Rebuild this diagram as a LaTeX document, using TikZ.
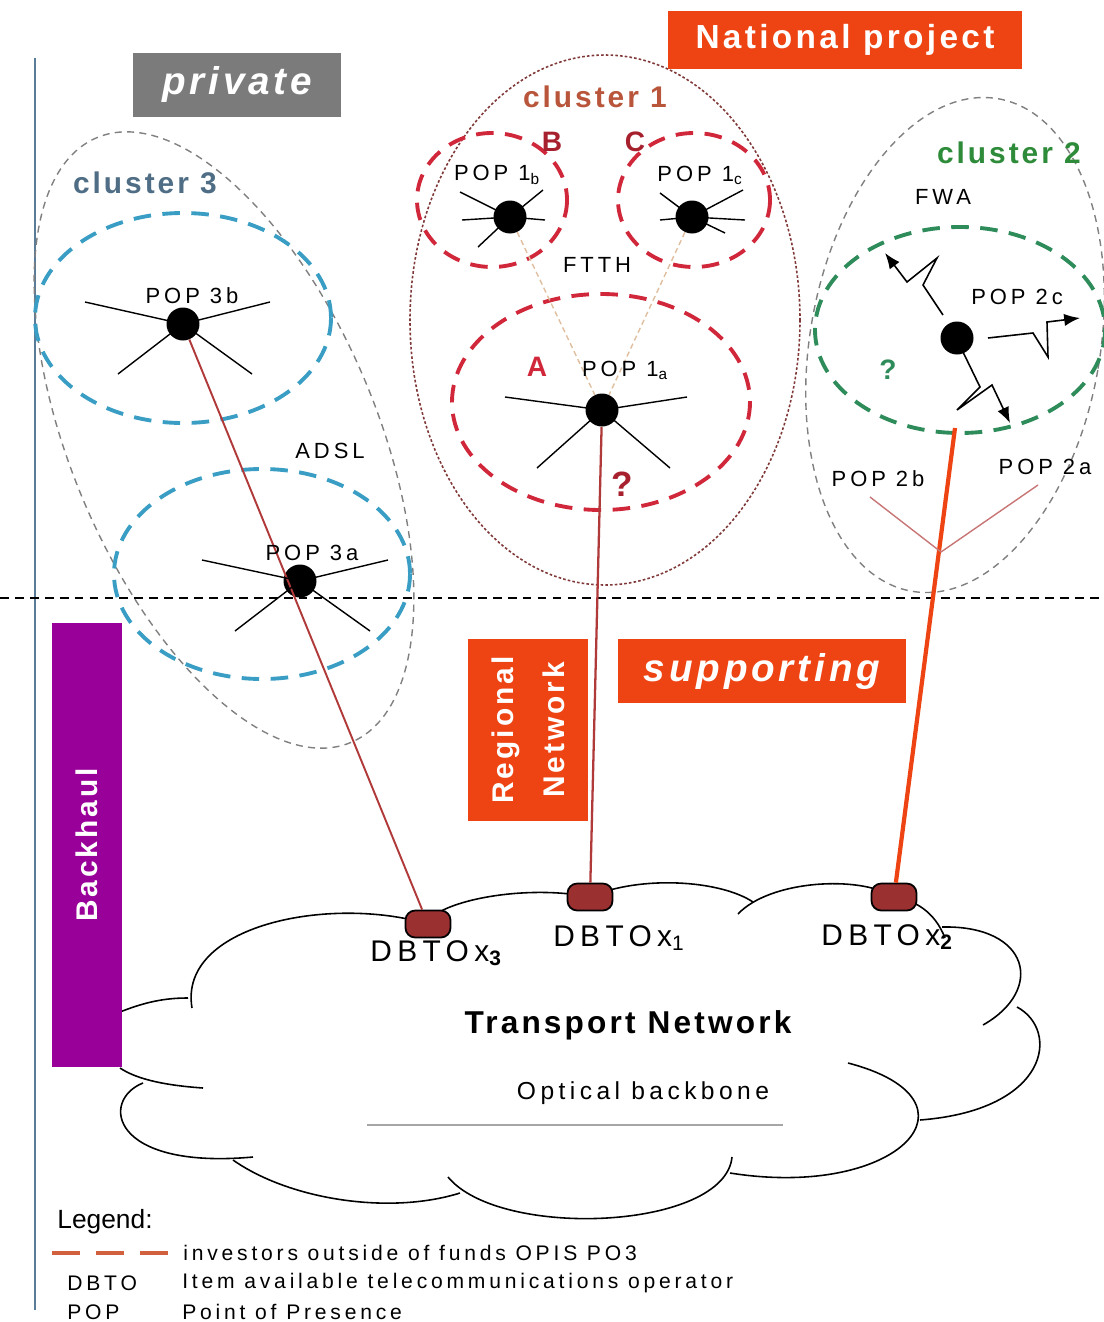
\documentclass[tikz,border=0pt]{standalone}
\usepackage{fontspec}
\setmainfont{Liberation Sans}
\newfontfamily\wide[LetterSpace=18]{Liberation Sans}
\newfontfamily\tagfont[LetterSpace=10]{Liberation Sans}
\usetikzlibrary{arrows.meta}
\definecolor{natred}{HTML}{EE4312}
\definecolor{privgray}{HTML}{7B7B7B}
\definecolor{bhpurple}{HTML}{990099}
\definecolor{cyanring}{HTML}{3A9EC4}
\definecolor{redring}{HTML}{D0283A}
\definecolor{greenring}{HTML}{2E8B5A}
\definecolor{linkred}{HTML}{B03A3A}
\definecolor{dbtored}{HTML}{9A3030}
\definecolor{axisblue}{HTML}{5B7C98}
\definecolor{clone}{HTML}{B8553A}
\definecolor{cltwo}{HTML}{2E8B3A}
\definecolor{clthree}{HTML}{4F6E85}
\definecolor{edgeone}{HTML}{803838}
\definecolor{legorange}{HTML}{D0603E}
\begin{document}
\begin{tikzpicture}[x=0.02cm,y=-0.02cm]
\tikzstyle{every node}=[inner sep=0pt]
\tikzstyle{lbl}=[font=\wide\fontsize{12.5}{15}\selectfont]
\tikzstyle{dblbl}=[font=\wide\fontsize{17}{20}\selectfont]
\tikzstyle{leg}=[font=\wide\fontsize{12}{14}\selectfont,anchor=west]
\tikzstyle{tagbox}=[fill=natred,text=white,font=\tagfont\bfseries\fontsize{19}{22}\selectfont]
\tikzstyle{clname}=[font=\tagfont\bfseries\fontsize{17}{20}\selectfont]
\tikzstyle{letter}=[font=\bfseries\fontsize{16}{18}\selectfont]
\tikzstyle{popdot}=[circle,fill=black,minimum size=0.66cm]
\tikzstyle{dbto}=[rectangle,rounded corners=5.5pt,minimum width=0.9cm,minimum height=0.54cm,fill=dbtored,draw=black,line width=1pt]
\tikzstyle{spoke}=[line width=0.8pt]
\tikzstyle{cloudline}=[line width=0.9pt]
\tikzstyle{outer}=[line width=0.8pt,dash pattern=on 4pt off 3pt,draw=gray]
\tikzstyle{ring}=[line width=2.2pt,dash pattern=on 10pt off 6.5pt]
\tikzstyle{zap}=[line width=0.9pt,-{Latex[length=9pt,width=7pt]}]
\useasboundingbox (0,0) rectangle (1104,1322);
% frame lines
\draw[axisblue,line width=1.1pt] (35,58) -- (35,1310);
\draw[line width=0.8pt,dash pattern=on 5pt off 3.5pt] (0,598) -- (1104,598);
% cloud
\draw[cloudline] (120,1012) .. controls (150,1000) and (170,998) .. (188,998);
\draw[cloudline] (192,1008) .. controls (178,925) and (330,895) .. (428,924);
\draw[cloudline] (428,920) .. controls (450,898) and (530,885) .. (590,897);
\draw[cloudline] (590,897) .. controls (640,875) and (720,880) .. (753,902);
\draw[cloudline] (738,914) .. controls (770,880) and (860,875) .. (894,897);
\draw[cloudline] (894,897) .. controls (915,900) and (935,912) .. (945,938);
\draw[cloudline] (942,927) .. controls (1030,925) and (1045,990) .. (983,1025);
\draw[cloudline] (1017,1007) .. controls (1060,1030) and (1050,1110) .. (920,1120);
\draw[cloudline] (848,1063) .. controls (990,1100) and (900,1200) .. (730,1173);
\draw[cloudline] (732,1157) .. controls (725,1230) and (500,1240) .. (448,1177);
\draw[cloudline] (233,1160) .. controls (290,1200) and (390,1215) .. (460,1193);
\draw[cloudline] (143,1083) .. controls (100,1100) and (110,1170) .. (253,1157);
\draw[cloudline] (120,1068) .. controls (135,1078) and (160,1085) .. (203,1088);
\draw[gray!70,line width=0.8pt] (367,1125) -- (783,1125);
% clusters
\draw[outer,rotate around={-67.2:(224,440)}] (224,440) ellipse [x radius=328, y radius=153];
\draw[ring,draw=cyanring] (183,318) ellipse [x radius=148, y radius=105];
\draw[ring,draw=cyanring] (262,574) ellipse [x radius=148, y radius=105];
\draw[edgeone,line width=0.9pt,dash pattern=on 1.5pt off 1.2pt] (605,320) ellipse [x radius=195, y radius=265];
\draw[ring,draw=redring] (492,200) ellipse [x radius=75, y radius=67];
\draw[ring,draw=redring] (694,200) ellipse [x radius=76, y radius=67];
\draw[ring,draw=redring] (601,402) ellipse [x radius=149, y radius=108];
\draw[outer,rotate around={-10:(955,345)}] (955,345) ellipse [x radius=145, y radius=250];
\draw[ring,draw=greenring] (960,330) ellipse [x radius=145, y radius=103];
% boxes
\node[tagbox,fill=privgray,minimum width=4.16cm,minimum height=1.28cm,font=\tagfont\bfseries\itshape\fontsize{22}{24}\selectfont] (private) at (237,85) {private};
\node[tagbox,minimum width=7.1cm,minimum height=1.18cm] (national) at (845,40) {National project};
\node[tagbox,minimum width=5.78cm,minimum height=1.28cm,font=\tagfont\bfseries\itshape\fontsize{22}{24}\selectfont] (supporting) at (762,671) {supporting};
\node[tagbox,rotate=90,minimum width=3.66cm,minimum height=2.42cm,align=center,font=\tagfont\bfseries\fontsize{17}{29}\selectfont] (regional) at (528,730) {Regional\\Network};
\node[tagbox,fill=bhpurple,rotate=90,minimum width=8.88cm,minimum height=1.4cm,font=\tagfont\bfseries\fontsize{17}{20}\selectfont] (backhaul) at (87,845) {Backhaul};
% points of presence
\node[popdot] (p3b) at (183,324) {};
\node[popdot] (p3a) at (300,581) {};
\node[popdot] (p1b) at (510,217) {};
\node[popdot] (p1c) at (692,217) {};
\node[popdot] (p1a) at (602,410) {};
\node[popdot] (p2c) at (957,338) {};
\node[dbto] (x3) at (428,924) {};
\node[dbto] (x1) at (590,897) {};
\node[dbto] (x2) at (894,897) {};
% links
\draw[linkred,line width=1.1pt] (p3b) -- (x3);
\draw[linkred,line width=1.3pt] (p1a) -- (x1);
\draw[brown!50,line width=0.8pt,dash pattern=on 3pt off 2pt] (p1b) -- (p1a);
\draw[brown!50,line width=0.8pt,dash pattern=on 3pt off 2pt] (p1c) -- (p1a);
\coordinate (foot2) at (955,428);
\coordinate (fork) at (941,552);
\coordinate (end2b) at (870,497);
\coordinate (end2a) at (1038,485);
\draw[natred,line width=2.4pt] (foot2) -- (x2);
\draw[linkred!70,line width=0.8pt] (fork) -- (end2b);
\draw[linkred!70,line width=0.8pt] (fork) -- (end2a);
% spokes
\foreach \ex/\ey in {85/302, 270/302, 118/374, 252/374}
  \draw[spoke] (p3b.center) -- (\ex,\ey);
\foreach \ex/\ey in {202/560, 388/560, 235/631, 370/631}
  \draw[spoke] (p3a.center) -- (\ex,\ey);
\foreach \ex/\ey in {460/192, 462/220, 478/247, 543/190, 545/220}
  \draw[spoke] (p1b.center) -- (\ex,\ey);
\foreach \ex/\ey in {660/193, 660/220, 743/190, 745/220, 725/233}
  \draw[spoke] (p1c.center) -- (\ex,\ey);
\foreach \ex/\ey in {505/397, 687/397, 537/468, 670/468}
  \draw[spoke] (p1a.center) -- (\ex,\ey);
% radio links
\draw[zap] (943,315) -- (923,285) -- (937,258) -- (907,282) -- (885,253);
\draw[zap] (988,338) -- (1033,333) -- (1048,357) -- (1047,322) -- (1080,318);
\draw[zap] (963,352) -- (980,387) -- (957,410) -- (992,385) -- (1010,423);
% labels
\node[clname,text=clthree] (cl3) at (145,183) {cluster 3};
\node[clname,text=clone] (cl1) at (595,97) {cluster 1};
\node[clname,text=cltwo] (cl2) at (1009,153) {cluster 2};
\node[lbl] (lp3b) at (192,296) {POP 3b};
\node[lbl] (lp3a) at (312,553) {POP 3a};
\node[lbl] (ladsl) at (330,451) {ADSL};
\node[lbl] (lp1b) at (497,175) {POP 1\textsubscript{b}};
\node[lbl] (lp1c) at (700,175) {POP 1\textsubscript{c}};
\node[lbl] (lp1a) at (625,370) {POP 1\textsubscript{a}};
\node[lbl] (lftth) at (597,265) {FTTH};
\node[letter,text=redring!80!black] (lb) at (552,142) {B};
\node[letter,text=redring!80!black] (lc) at (635,142) {C};
\node[letter,text=redring] (la) at (537,367) {A};
\node[font=\bfseries\fontsize{20}{22}\selectfont,text=redring!80!black] (q1) at (622,484) {?};
\node[lbl] (lfwa) at (943,197) {FWA};
\node[lbl] (lp2c) at (1017,297) {POP 2c};
\node[font=\bfseries\fontsize{16}{18}\selectfont,text=greenring] (q2) at (888,370) {?};
\node[lbl] (lp2b) at (878,479) {POP 2b};
\node[lbl] (lp2a) at (1045,467) {POP 2a};
\node[dblbl] (lx3) at (438,953) {DBTOx\textsubscript{\textbf{3}}};
\node[dblbl] (lx1) at (619,938) {DBTOx\textsubscript{1}};
\node[dblbl] (lx2) at (889,937) {DBTOx\textsubscript{\textbf{2}}};
\node[font=\tagfont\bfseries\fontsize{18}{20}\selectfont] (transport) at (628,1025) {Transport Network};
\node[font=\wide\fontsize{14}{16}\selectfont] (optical) at (643,1093) {Optical backbone};
% legend
\node[leg,font=\fontsize{15}{17}\selectfont] (legend) at (57,1222) {Legend:};
\coordinate (legA) at (52,1253);
\coordinate (legB) at (168,1253);
\draw[legorange,line width=2.8pt,dash pattern=on 15.9pt off 9.1pt] (legA) -- (legB);
\node[leg] (leg1) at (183,1253) {investors outside of funds OPIS PO3};
\node[leg] (dbtokey) at (67,1283) {DBTO};
\node[leg] (leg2) at (182,1283) {Item available telecommunications operator};
\node[leg] (popkey) at (67,1312) {POP};
\node[leg] (leg3) at (182,1312) {Point of Presence};
\end{tikzpicture}
\end{document}
